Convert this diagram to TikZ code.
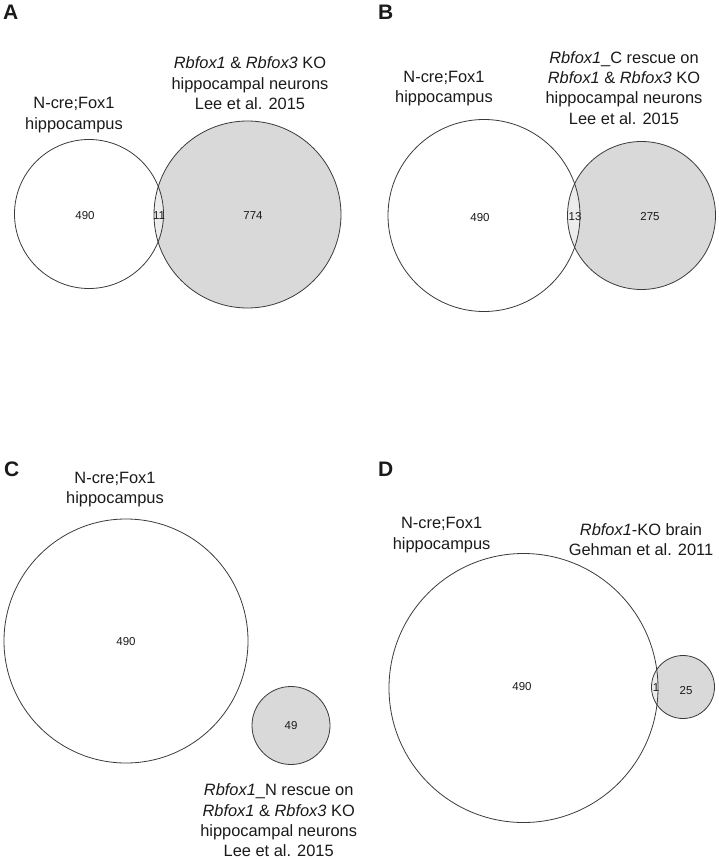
\documentclass[tikz,border=0pt]{standalone}
\usepackage{fontspec}
\setmainfont{Liberation Sans}
\usepackage{xcolor}
\usepackage{tikz}
\usetikzlibrary{positioning}

\definecolor{vennfill}{HTML}{D9D9D9}
\definecolor{vennlens}{HTML}{ECECEC}
\definecolor{vennedge}{HTML}{3A3A3A}
\definecolor{inktext}{HTML}{1A1A1A}

\begin{document}
\begin{tikzpicture}[
      x=1pt, y=-1pt,
      every node/.style={text=inktext},
      setlabel/.style={align=center, inner sep=0pt, anchor=north, font=\fontsize{16.4}{20.3}\selectfont},
      count/.style={inner sep=0pt, font=\fontsize{11.5}{12}\selectfont},
      panel/.style={inner sep=0pt, anchor=base west, font=\fontsize{21}{21}\selectfont\bfseries},
      vennline/.style={draw=vennedge, line width=0.8pt}
    ]
      \useasboundingbox (0,0) rectangle (718,859);

      % A
      \node[panel] (pa) at (3,20) {A};
      \coordinate (a1) at (89,214);
      \coordinate (a2) at (247.5,214.5);
      \fill[vennfill] (a2) circle (93.5pt);
      \begin{scope}
        \clip (a1) circle (74.5pt);
        \fill[vennlens] (a2) circle (93.5pt);
      \end{scope}
      \draw[vennline] (a1) circle (74.5pt);
      \draw[vennline] (a2) circle (93.5pt);
      \node[setlabel] (la1) at (74,97.3) {N-cre;Fox1\\hippocampus};
      \node[setlabel] (la2) at (250,56.7) {\textit{Rbfox1} \& \textit{Rbfox3} KO\\hippocampal neurons\\Lee et al. 2015};
      \node[count] (na1) at (85,215.5) {490};
      \node[count] (na12) at (159,215.5) {11};
      \node[count] (na2) at (253,215.5) {774};

      % B
      \node[panel] (pb) at (378,20) {B};
      \coordinate (b1) at (484,215.5);
      \coordinate (b2) at (641.5,215.5);
      \fill[vennfill] (b2) circle (74pt);
      \begin{scope}
        \clip (b1) circle (96pt);
        \fill[vennlens] (b2) circle (74pt);
      \end{scope}
      \draw[vennline] (b1) circle (96pt);
      \draw[vennline] (b2) circle (74pt);
      \node[setlabel] (lb1) at (444,70.7) {N-cre;Fox1\\hippocampus};
      \node[setlabel] (lb2) at (624,51.3) {\textit{Rbfox1}\_C rescue on\\\textit{Rbfox1} \& \textit{Rbfox3} KO\\hippocampal neurons\\Lee et al. 2015};
      \node[count] (nb1) at (480,218) {490};
      \node[count] (nb12) at (575,217) {13};
      \node[count] (nb2) at (650,217) {275};

      % C
      \node[panel] (pc) at (4,476.7) {C};
      \coordinate (c1) at (126,641);
      \coordinate (c2) at (291,725.5);
      \draw[vennline] (c1) circle (122pt);
      \draw[vennline, fill=vennfill] (c2) circle (39pt);
      \node[setlabel] (lc1) at (115,472) {N-cre;Fox1\\hippocampus};
      \node[setlabel] (lc2) at (278.7,783.7) {\textit{Rbfox1}\_N rescue on\\\textit{Rbfox1} \& \textit{Rbfox3} KO\\hippocampal neurons\\Lee et al. 2015};
      \node[count] (nc1) at (126,642) {490};
      \node[count] (nc2) at (291,726) {49};

      % D
      \node[panel] (pd) at (378,476.7) {D};
      \coordinate (d1) at (523.5,688);
      \coordinate (d2) at (683,687);
      \fill[vennfill] (d2) circle (31.5pt);
      \begin{scope}
        \clip (d1) circle (134.5pt);
        \fill[vennlens] (d2) circle (31.5pt);
      \end{scope}
      \draw[vennline] (d1) circle (134.5pt);
      \draw[vennline] (d2) circle (31.5pt);
      \node[setlabel] (ld1) at (441.6,517.3) {N-cre;Fox1\\hippocampus};
      \node[setlabel] (ld2) at (641,523) {\textit{Rbfox1}-KO brain\\Gehman et al. 2011};
      \node[count] (nd1) at (522,687) {490};
      \node[count] (nd12) at (656,688) {1};
      \node[count] (nd2) at (686,691) {25};
    \end{tikzpicture}
\end{document}
